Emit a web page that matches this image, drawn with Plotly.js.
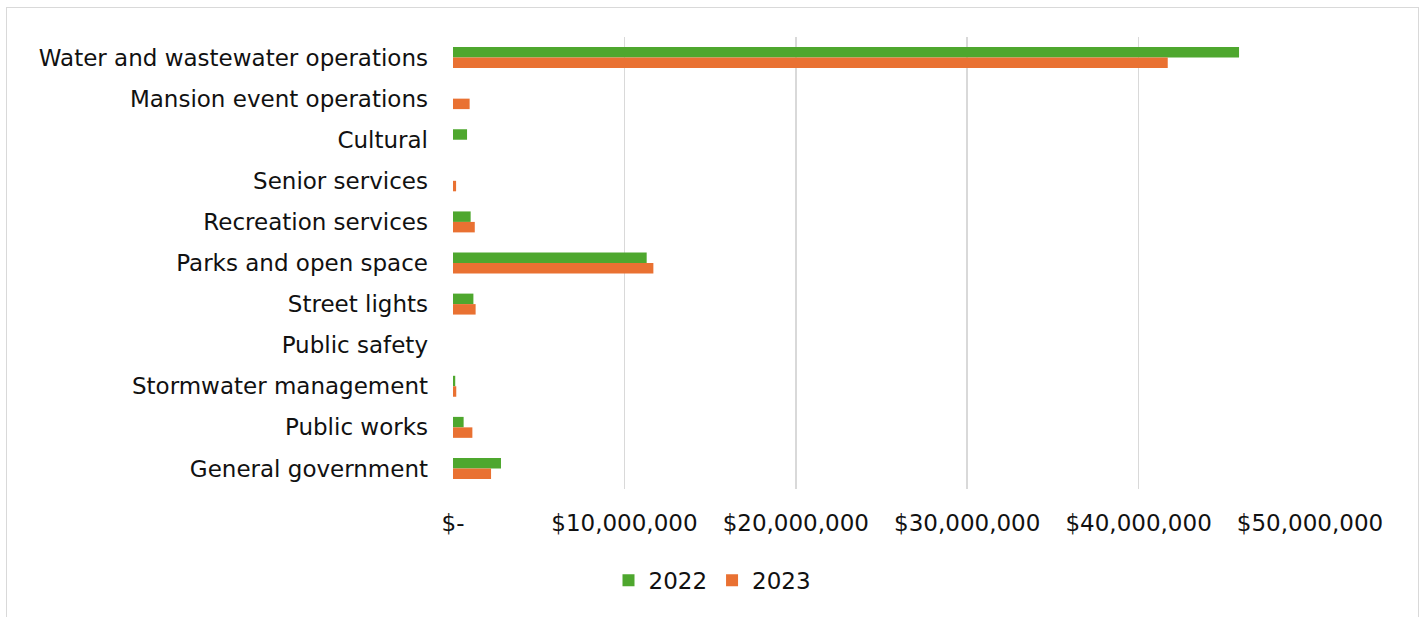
<!DOCTYPE html>
<html>
<head>
<meta charset="utf-8">
<script src="https://cdn.plot.ly/plotly-3.0.1.min.js"></script>
<style>
  html, body { margin: 0; padding: 0; background: #fff; width: 1421px; height: 617px; overflow: hidden; }
  #wrap { position: absolute; left: 6px; top: 7px; width: 1411px; height: 620px; border: 1px solid #d9d9d9; }
  #chart { width: 1411px; height: 620px; }
</style>
</head>
<body>
<div id="wrap"><div id="chart"></div></div>
<script>
// Categories (top to bottom as shown)
const categories = [
  "Water and wastewater operations",
  "Mansion event operations",
  "Cultural",
  "Senior services",
  "Recreation services",
  "Parks and open space",
  "Street lights",
  "Public safety",
  "Stormwater management",
  "Public works",
  "General government"
];
const values2022 = [45860000, 0, 820000, 0, 1030000, 11300000, 1190000, 0, 130000, 620000, 2800000];
const values2023 = [41700000, 970000, 0, 180000, 1270000, 11690000, 1320000, 0, 190000, 1130000, 2220000];
const tickValues = [0, 10000000, 20000000, 30000000, 40000000, 50000000];
const tickLabels = ["$-", "$10,000,000", "$20,000,000", "$30,000,000", "$40,000,000", "$50,000,000"];
const seriesNames = ["2022", "2023"];

const FONT = "DejaVu Sans, sans-serif";
const FS = 23;

const traces = [
  { type: "bar", orientation: "h", name: seriesNames[0], y: categories, x: values2022,
    marker: { color: "#4EA72E" }, hoverinfo: "x+name" },
  { type: "bar", orientation: "h", name: seriesNames[1], y: categories, x: values2023,
    marker: { color: "#E97132" }, hoverinfo: "x+name" }
];

const layout = {
  width: 1411, height: 620,
  margin: { l: 446, r: 108, t: 29, b: 139 },
  paper_bgcolor: "#ffffff", plot_bgcolor: "#ffffff",
  font: { family: FONT, size: FS, color: "#111111" },
  barmode: "group",
  bargap: 0.49,
  bargroupgap: 0,
  showlegend: true,
  legend: {
    orientation: "h", xref: "container", yref: "container",
    x: 0.5, xanchor: "center", y: 0.077, yanchor: "middle",
    font: { family: FONT, size: FS, color: "#111111" },
    itemwidth: 30, tracegroupgap: 0
  },
  xaxis: {
    range: [0, 50000000],
    tickvals: tickValues, ticktext: tickLabels,
    showgrid: true, gridcolor: "#d9d9d9", gridwidth: 1.5,
    zeroline: false, showline: false, ticks: "",
    ticklabelstandoff: 18,
    tickfont: { family: FONT, size: FS, color: "#111111" },
    fixedrange: true
  },
  yaxis: {
    type: "category", autorange: "reversed",
    showgrid: false, zeroline: false, showline: false, ticks: "",
    ticklabelstandoff: 24,
    tickfont: { family: FONT, size: FS, color: "#111111" },
    fixedrange: true
  }
};

Plotly.newPlot("chart", traces, layout, { displayModeBar: false, staticPlot: true });
</script>
</body>
</html>
